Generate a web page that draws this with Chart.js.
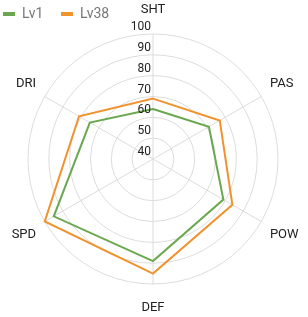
<!DOCTYPE html>
<html lang="en">
<head>
  <meta charset="UTF-8">
  <title>Lv1 vs Lv38 radar</title>
  <script src="https://cdn.jsdelivr.net/npm/chart.js"></script>
  <style>
    html, body {
      margin: 0;
      padding: 0;
      background: #fff;
    }
    .wrap {
      position: relative;
      width: 308px;
      height: 317px;
    }
  </style>
</head>
<body>
  <div class="wrap">
    <canvas id="radarChart"></canvas>
  </div>

  <script>
    const stats = ['SHT', 'PAS', 'POW', 'DEF', 'SPD', 'DRI'];
    const lv1Values = [64, 71, 79, 89, 95, 75];
    const lv38Values = [69, 77, 84, 95, 100, 81];
    const tickValues = [40, 50, 60, 70, 80, 90, 100];

    const green = '#6aa84f';
    const orange = '#f0922e';

    // tick numbers sit a little above their ring, right-aligned to the axis
    const tickLabels = {
      id: 'tickLabels',
      afterDatasetsDraw(chart) {
        const r = chart.scales.r;
        const ctx = chart.ctx;
        ctx.save();
        ctx.font = '12px Roboto';
        ctx.fillStyle = '#222';
        ctx.textAlign = 'right';
        ctx.textBaseline = 'middle';
        tickValues.forEach(v => {
          const d = r.getDistanceFromCenterForValue(v);
          ctx.fillText(String(v), r.xCenter - 2, r.yCenter - d - 7);
        });
        ctx.restore();
      }
    };

    // legend floats over the chart instead of taking layout space
    const floatingLegend = {
      id: 'floatingLegend',
      beforeInit(chart) {
        const legend = chart.legend;
        const fit = legend.fit;
        const draw = legend.draw;
        legend.fit = function () {
          fit.call(this);
          this.height = 0;
        };
        legend.draw = function () {
          const bottom = this.bottom;
          this.bottom = this.top + 40;
          this.ctx.save();
          this.ctx.translate(-2, 4);
          draw.call(this);
          this.ctx.restore();
          this.bottom = bottom;
        };
      }
    };

    const ctx = document.getElementById('radarChart').getContext('2d');
    const chart = new Chart(ctx, {
      type: 'radar',
      data: {
        labels: stats,
        datasets: [
          {
            label: 'Lv1',
            data: lv1Values,
            borderColor: green,
            backgroundColor: green,
            borderWidth: 2,
            fill: false,
            pointRadius: 0,
            pointHoverRadius: 0
          },
          {
            label: 'Lv38',
            data: lv38Values,
            borderColor: orange,
            backgroundColor: orange,
            borderWidth: 2,
            fill: false,
            pointRadius: 0,
            pointHoverRadius: 0
          }
        ]
      },
      options: {
        responsive: true,
        maintainAspectRatio: false,
        animation: false,
        elements: { line: { tension: 0 } },
        layout: { padding: { top: 2, bottom: 1, left: 4, right: 0 } },
        plugins: {
          tooltip: { enabled: false },
          legend: {
            position: 'top',
            align: 'start',
            labels: {
              padding: 1,
              boxWidth: 12,
              boxHeight: 4,
              color: '#777',
              font: { family: 'Roboto', size: 14 },
              generateLabels(chart) {
                const items = Chart.defaults.plugins.legend.labels.generateLabels(chart);
                return items.map(item => Object.assign(item, {
                  text: item.text + '    \u2009',
                  lineWidth: 0
                }));
              }
            }
          }
        },
        scales: {
          r: {
            min: 40,
            max: 100,
            ticks: { stepSize: 10, display: false },
            grid: { circular: true, color: '#dcdcdc', lineWidth: 1 },
            angleLines: { color: '#dcdcdc', lineWidth: 1 },
            pointLabels: {
              color: '#222',
              font: { family: 'Roboto', size: 13 },
              padding: (c) => (c.index % 3 === 0 ? 16.4 : 10)
            }
          }
        }
      },
      plugins: [tickLabels, floatingLegend]
    });
  </script>
</body>
</html>
